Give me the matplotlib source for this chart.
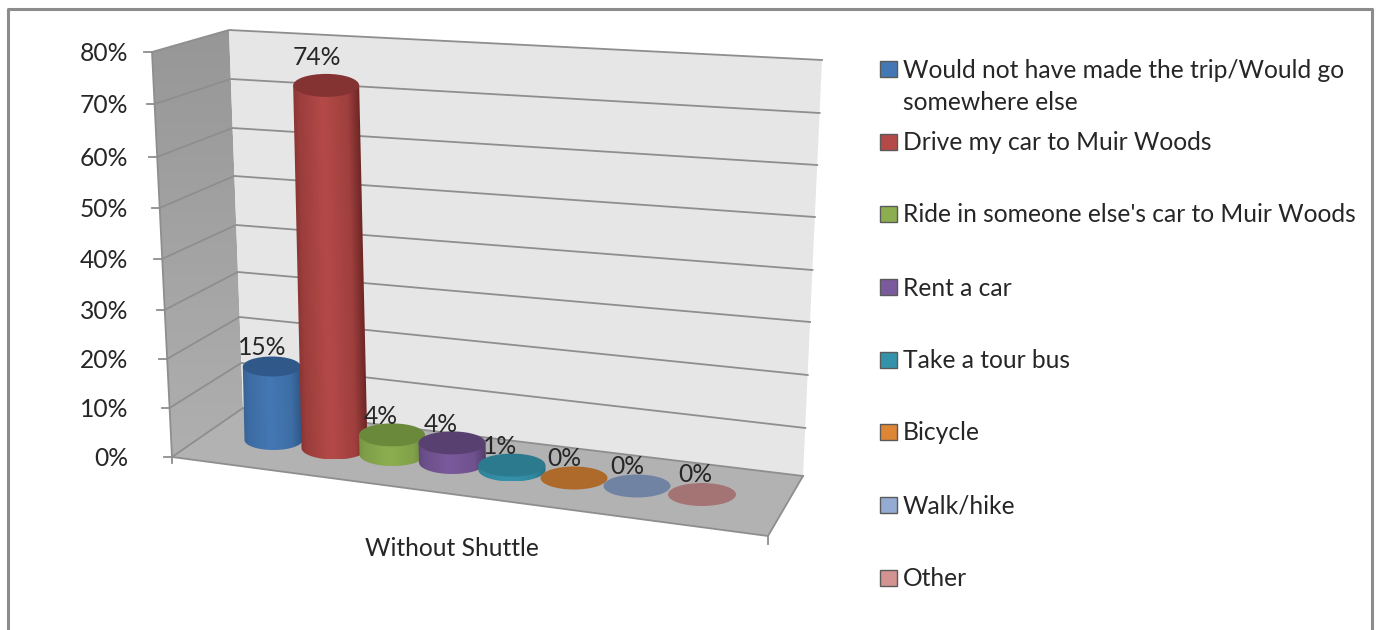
# -*- coding: utf-8 -*-
import numpy as np
import matplotlib
matplotlib.use('Agg')
import matplotlib.pyplot as plt
from matplotlib.colors import LinearSegmentedColormap
from matplotlib.patches import Ellipse, Polygon, Rectangle
from matplotlib.transforms import Affine2D

plt.rcParams['font.family'] = ['Lato', 'DejaVu Sans']

# data
categories = ['Would not have made the trip/Would go\nsomewhere else',
              'Drive my car to Muir Woods',
              "Ride in someone else's car to Muir Woods",
              'Rent a car', 'Take a tour bus', 'Bicycle', 'Walk/hike', 'Other']
values = [15, 74, 4, 4, 1, 0, 0, 0]
value_labels = ['15%', '74%', '4%', '4%', '1%', '0%', '0%', '0%']
tick_values = [0, 10, 20, 30, 40, 50, 60, 70, 80]
tick_labels = ['0%', '10%', '20%', '30%', '40%', '50%', '60%', '70%', '80%']
group_label = 'Without Shuttle'

# styles: main, top cap, dark edge
colors = [('#4478B4', '#30598A', '#2A4E78'),
          ('#B44A48', '#843332', '#5E1F1E'),
          ('#8DAE50', '#6B893B', '#5F7A34'),
          ('#7A5A9C', '#584170', '#493660'),
          ('#3592AB', '#2C7A8E', '#25697B'),
          ('#C77A2E', '#AD6A2A', '#9C5E24'),
          ('#8FA6CC', '#7083A2', '#7083A2'),
          ('#CE8E8C', '#A47373', '#A47373')]
legend_colors = ['#4478B4', '#B44A48', '#8DAE50', '#7A5A9C',
                 '#3592AB', '#DC8636', '#94ABD3', '#D39391']

# layout in picture pixels
front_y = [457, 408, 359, 310, 259, 208, 157, 104, 52]
back_left_y = [408, 363, 317, 272, 225, 176, 128, 79, 30]
back_right_y = [476, 428, 375, 322, 270, 217, 165, 113, 60]
front_x = (172, 152)
back_left_x = (243, 229)
back_right_x = (803, 822)
floor_front_right = (768, 536)
base_y = [440, 448, 454.5, 462.5, 470, 478, 486, 494.5]
center_x = [273.5, 334.5, 392.5, 452.5, 512, 574, 637, 702]
widths = [58, 66, 66, 67, 67, 67, 67, 68]
label_dx = [-11, -18, -12, -12, -12, -10, -10, -7]
label_dy = [-20, -29, -19, -19, -20, -21, -20, -21]
legend_y = [69, 142, 214, 287, 360, 432, 505, 578]
px_per_pct = 4.9
tilt = 0.023  # sideways lean of the columns per pixel of height
cap_h = 23
GRID = '#8e8e8e'
TEXT = '#262626'
FS = 17.7


def lerp(pair, v):
    return pair[0] + (pair[1] - pair[0]) * v / 80.0


def draw_cylinder(ax, cx, base, top, w, main, cap, dark, z):
    h = cap_h if w > 60 else 20
    cx_top = cx - (base - top) * tilt
    if top < base:
        # body outline: leaning sides, round bottom
        t = np.linspace(0, np.pi, 60)
        xs = cx + w / 2 * np.cos(t)
        ys = base + h / 2 * np.sin(t)
        pts = np.column_stack([np.r_[cx_top + w / 2, xs, cx_top - w / 2],
                               np.r_[top, ys, top]])
        clip = Polygon(pts, closed=True, fc='none', ec='none', zorder=z)
        ax.add_patch(clip)
        cmap = LinearSegmentedColormap.from_list('body', [dark, main], N=128)
        # lit a little left of the middle, falling off to the right edge
        grad = np.interp(np.linspace(0, 1, 128),
                         [0, .1, .45, .8, .95, 1], [.45, .7, 1, .75, .25, .1])[None, :]
        im = ax.imshow(grad, cmap=cmap, vmin=0, vmax=1, aspect='auto', zorder=z,
                       extent=(cx - w / 2 - 2, cx + w / 2 + 2, base + h / 2, top))
        shear = Affine2D(np.array([[1, tilt, -tilt * base], [0, 1, 0], [0, 0, 1]]))
        im.set_transform(shear + ax.transData)
        im.set_clip_path(clip)
    ax.add_patch(Ellipse((cx_top, top), w, h, fc=cap, ec='none', zorder=z + .001))


fig = plt.figure(figsize=(13.79, 6.30), dpi=100)
ax = fig.add_axes([0, 0, 1, 1])

# walls and floor
side = Polygon([(front_x[1], front_y[-1]), (back_left_x[1], back_left_y[-1]),
                (back_left_x[0], back_left_y[0]), (front_x[0], front_y[0])],
               fc='none', ec='none', zorder=1)
ax.add_patch(side)
im = ax.imshow(np.linspace(0, 1, 64)[:, None], aspect='auto', zorder=1, vmin=0, vmax=1,
               cmap=LinearSegmentedColormap.from_list('wall', ['#979797', '#afafaf']),
               extent=(150, 245, front_y[0], back_left_y[-1]))
im.set_clip_path(side)
ax.add_patch(Polygon([(back_left_x[1], back_left_y[-1]), (back_right_x[1], back_right_y[-1]),
                      (back_right_x[0], back_right_y[0]), (back_left_x[0], back_left_y[0])],
                     fc='#e6e6e6', ec='none', zorder=1))
ax.add_patch(Polygon([(front_x[0], front_y[0]), floor_front_right,
                      (back_right_x[0], back_right_y[0]), (back_left_x[0], back_left_y[0])],
                     fc='#b2b2b2', ec='none', zorder=1))
ax.plot([front_x[0], floor_front_right[0], back_right_x[0]],
        [front_y[0], floor_front_right[1], back_right_y[0]], color=GRID, lw=1.3, zorder=2)

# gridlines, ticks and tick labels
for v, lab, fy, ly, ry in zip(tick_values, tick_labels, front_y, back_left_y, back_right_y):
    fx, lx, rx = lerp(front_x, v), lerp(back_left_x, v), lerp(back_right_x, v)
    ax.plot([fx, lx, rx], [fy, ly, ry], color=GRID, lw=1.3, zorder=2)
    ax.plot([fx - 8, fx], [fy, fy], color=GRID, lw=1.3, zorder=2)
    ax.text(128, fy + 1.5, lab, ha='right', va='center', fontsize=FS, color=TEXT)
ax.plot([front_x[0], front_x[1]], [front_y[0], front_y[-1]], color=GRID, lw=1.3, zorder=2)
ax.plot([front_x[0]] * 2, [front_y[0], front_y[0] + 6], color=GRID, lw=1.3, zorder=2)
ax.plot([floor_front_right[0]] * 2, [floor_front_right[1], floor_front_right[1] + 8],
        color=GRID, lw=1.3, zorder=2)

# cylinders and their labels
for i, v in enumerate(values):
    top = base_y[i] - v * px_per_pct
    draw_cylinder(ax, center_x[i], base_y[i], top, widths[i], *colors[i], 3 + i * .01)
    ax.text(center_x[i] + label_dx[i], top + label_dy[i] + 1, value_labels[i],
            ha='center', va='center', fontsize=FS, color=TEXT, zorder=5)

ax.text(452, 548, group_label, ha='center', va='center', fontsize=FS, color=TEXT)

# legend
for y, lab, c in zip(legend_y, categories, legend_colors):
    ax.add_patch(Rectangle((880, y - 8), 17, 16, fc=c, ec='#5a5a5a', lw=1.0))
    parts = lab.split('\n')
    ax.text(903, y + 1, parts[0], ha='left', va='center', fontsize=FS, color=TEXT)
    if len(parts) > 1:
        ax.text(903, y + 33, parts[1], ha='left', va='center', fontsize=FS, color=TEXT)

# outer frame, open at the bottom
ax.plot([8, 8, 1372, 1372], [630, 9, 9, 630], color='#8c8c8c', lw=2.2, zorder=6)

ax.set_xlim(0, 1379)
ax.set_ylim(630, 0)
ax.axis('off')
fig.savefig('out.png', dpi=100)
